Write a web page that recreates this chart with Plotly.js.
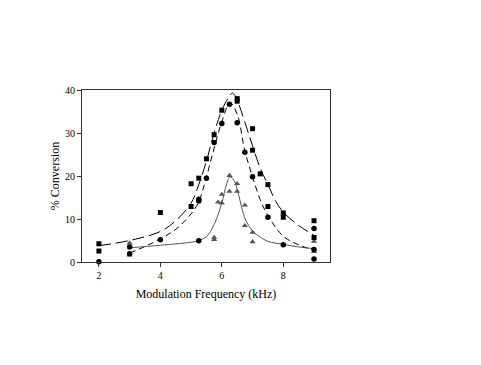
<!DOCTYPE html>
<html>
<head>
<meta charset="utf-8">
<script src="https://cdn.plot.ly/plotly-3.0.1.min.js"></script>
<style>
  html, body { margin: 0; padding: 0; background: #fff; }
  #plot { width: 481px; height: 365px; }
</style>
</head>
<body>
<div id="plot"></div>
<script>
const squareX = [2, 2, 4, 5, 5, 5.25, 5.5, 5.75, 6, 6.5, 6.5, 7, 7, 7.25, 7.5, 7.5, 8, 8, 9, 9];
const squareY = [4.25, 2.55, 11.5, 18.2, 12.9, 19.5, 24.0, 29.6, 35.3, 38.0, 37.4, 31.0, 26.0, 20.5, 18.0, 12.9, 11.4, 10.4, 9.6, 5.7];

const circleX = [2, 3, 3, 4, 5.25, 5.25, 5.25, 5.5, 5.75, 6, 6.25, 6.5, 6.75, 7, 7.5, 8, 9, 9, 9];
const circleY = [0.05, 3.5, 1.9, 5.2, 14.6, 14.2, 4.95, 19.5, 27.8, 32.2, 36.7, 32.4, 25.5, 19.8, 10.4, 4.0, 7.8, 2.9, 0.7];

const triangleX = [3, 3, 5.75, 5.75, 5.875, 6, 6, 6.25, 6.25, 6.5, 6.5, 6.75, 6.75, 7, 7, 9, 9];
const triangleY = [4.4, 1.6, 5.7, 5.2, 13.9, 13.7, 15.7, 20.1, 16.4, 18.2, 16.4, 13.2, 8.45, 6.9, 4.7, 4.8, 2.4];

// fitted curves
const fitSqX = [2, 3, 4, 4.5, 5, 5.25, 5.5, 5.75, 6, 6.2, 6.35, 6.5, 6.75, 7, 7.25, 7.5, 7.75, 8, 8.5, 9];
const fitSqY = [3.8, 5.0, 7.1, 9.6, 13.7, 18.0, 23.5, 30.0, 35.3, 38.0, 39.3, 37.6, 32.5, 27.0, 21.8, 18.0, 14.2, 11.6, 8.5, 6.2];

const fitCiX = [3, 3.5, 4, 4.5, 5, 5.25, 5.5, 5.75, 6, 6.27, 6.5, 6.75, 7, 7.25, 7.5, 8, 8.5, 9];
const fitCiY = [2.1, 3.6, 5.4, 7.6, 11.2, 14.0, 19.8, 26.5, 32.6, 37.0, 34.4, 25.8, 19.8, 14.5, 10.8, 6.0, 4.0, 2.8];

const fitTrX = [3, 4, 5, 5.25, 5.5, 5.75, 6, 6.15, 6.27, 6.4, 6.55, 6.75, 7, 7.25, 7.5, 8, 8.5, 9];
const fitTrY = [3.3, 3.9, 4.6, 5.0, 5.9, 8.7, 13.7, 18.0, 19.8, 19.0, 15.5, 10.2, 7.2, 5.8, 4.8, 4.1, 3.5, 3.1];

const xTicks = [2, 4, 6, 8];
const yTicks = [0, 10, 20, 30, 40];

const fitSq = {
    x: fitSqX, y: fitSqY, mode: 'lines', type: 'scatter',
    line: { color: '#000', width: 1, dash: '12px,5px', shape: 'spline' },
    hoverinfo: 'skip',
};
const fitCi = {
    x: fitCiX, y: fitCiY, mode: 'lines', type: 'scatter',
    line: { color: '#000', width: 1, dash: '6px,4px', shape: 'spline' },
    hoverinfo: 'skip',
};
const fitTr = {
    x: fitTrX, y: fitTrY, mode: 'lines', type: 'scatter',
    line: { color: '#555', width: 1, shape: 'spline' },
    hoverinfo: 'skip',
};
const squares = {
    x: squareX, y: squareY, mode: 'markers', type: 'scatter', cliponaxis: false,
    marker: { symbol: 'square', size: 5, color: '#000' },
};
const circles = {
    x: circleX, y: circleY, mode: 'markers', type: 'scatter', cliponaxis: false,
    marker: { symbol: 'circle', size: 5.5, color: '#000' },
};
const triangles = {
    x: triangleX, y: triangleY, mode: 'markers', type: 'scatter', cliponaxis: false,
    marker: { symbol: 'triangle-up', size: 5.5, color: '#555' },
};

const font = { family: 'Liberation Serif, Times New Roman, serif', size: 11, color: '#000' };

Plotly.newPlot('plot', [fitSq, fitCi, fitTr, triangles, circles, squares], {
    width: 481,
    height: 365,
    showlegend: false,
    paper_bgcolor: '#fff',
    plot_bgcolor: '#fff',
    font,
    margin: { l: 82, r: 151, t: 90, b: 103 },
    xaxis: {
        range: [1.45, 9.52],
        tickvals: xTicks,
        ticks: 'outside', ticklen: 4, tickcolor: '#333',
        showline: true, linecolor: '#333', linewidth: 1, mirror: true,
        showgrid: false, zeroline: false,
        tickfont: { family: font.family, size: 10 },
        title: { text: 'Modulation Frequency (kHz)', font: { family: font.family, size: 12 }, standoff: 9 },
    },
    yaxis: {
        range: [0, 40],
        tickvals: yTicks,
        ticks: 'outside', ticklen: 4, tickcolor: '#333',
        showline: true, linecolor: '#333', linewidth: 1, mirror: true,
        showgrid: false, zeroline: false,
        tickfont: { family: font.family, size: 10 },
        title: { text: '% Conversion', font: { family: font.family, size: 12 }, standoff: 2 },
    },
}, { staticPlot: true });
</script>
</body>
</html>
